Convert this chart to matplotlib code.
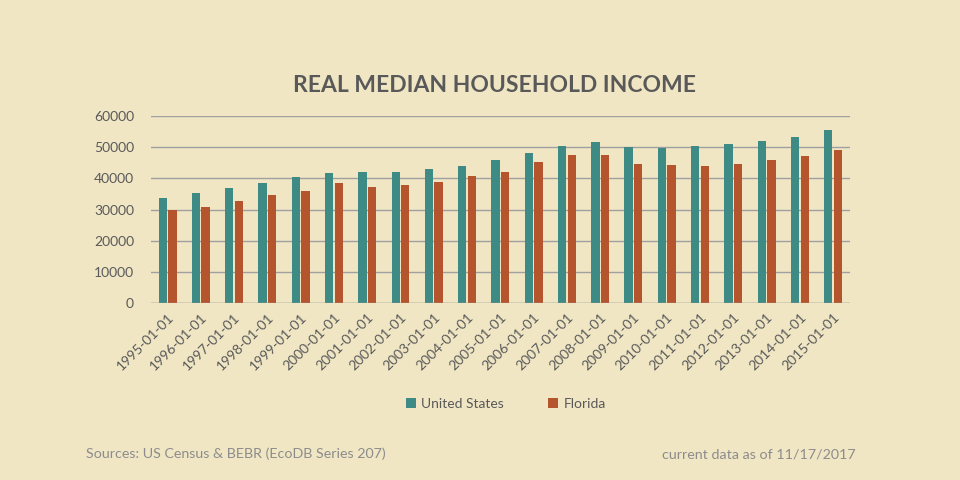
import matplotlib
matplotlib.use("Agg")
import matplotlib.pyplot as plt
import numpy as np

plt.rcParams["font.family"] = ["Lato", "DejaVu Sans"]

# data
years = [str(y) + "-01-01" for y in range(1995, 2016)]
us_income = [33800, 35400, 37000, 38600, 40500, 41800, 42100, 42100, 43100, 44100,
             46000, 48200, 50500, 51800, 50200, 49800, 50500, 51100, 52100, 53400, 55600]
fl_income = [30000, 30900, 32800, 34800, 36000, 38600, 37300, 38000, 38900, 40900,
             42100, 45300, 47600, 47600, 44700, 44400, 44100, 44700, 46000, 47300, 49200]

BG = "#F0E6C4"
TEAL = "#3E8A84"
RUST = "#B5552E"
TEXT = "#595959"

fig = plt.figure(figsize=(9.6, 4.8), dpi=100, facecolor=BG)
ax = fig.add_axes([0.157, 0.369, 0.728, 0.389], facecolor=BG)

x = np.arange(len(years))
w = 0.25
ax.bar(x - 0.14, us_income, width=w, color=TEAL, label="United States", zorder=3)
ax.bar(x + 0.15, fl_income, width=w, color=RUST, label="Florida", zorder=3)

ax.set_xlim(-0.5, len(years) - 0.5)
ax.set_ylim(0, 60000)
ax.set_yticks(range(0, 60001, 10000))
ax.yaxis.grid(True, color="#A0A0A0", linewidth=1.0, zorder=0)
for s in ax.spines.values():
    s.set_visible(False)
ax.axhline(0, color="#A0A0A0", linewidth=1.0, zorder=4)

ax.set_xticks(x)
ax.set_xticklabels(years, rotation=45, ha="right", rotation_mode="anchor")
ax.tick_params(axis="both", length=0, labelsize=10, labelcolor=TEXT)
ax.tick_params(axis="x", pad=6)
ax.tick_params(axis="y", pad=12)

fig.text(0.515, 0.822, "REAL MEDIAN HOUSEHOLD INCOME", ha="center", va="center",
         fontsize=16.5, fontweight="bold", color=TEXT)

fig.legend(loc="center", bbox_to_anchor=(0.527, 0.158), ncol=2, frameon=False,
           fontsize=10, labelcolor=TEXT, handlelength=0.7, handleheight=0.7,
           handletextpad=0.4, columnspacing=3.2)

fig.text(0.09, 0.054, "Sources: US Census & BEBR (EcoDB Series 207)", ha="left",
         va="center", fontsize=10.3, color="#8C8C8C")
fig.text(0.891, 0.054, "current data as of 11/17/2017", ha="right",
         va="center", fontsize=10.3, color="#8C8C8C")

fig.savefig("out.png", dpi=100, facecolor=BG)
